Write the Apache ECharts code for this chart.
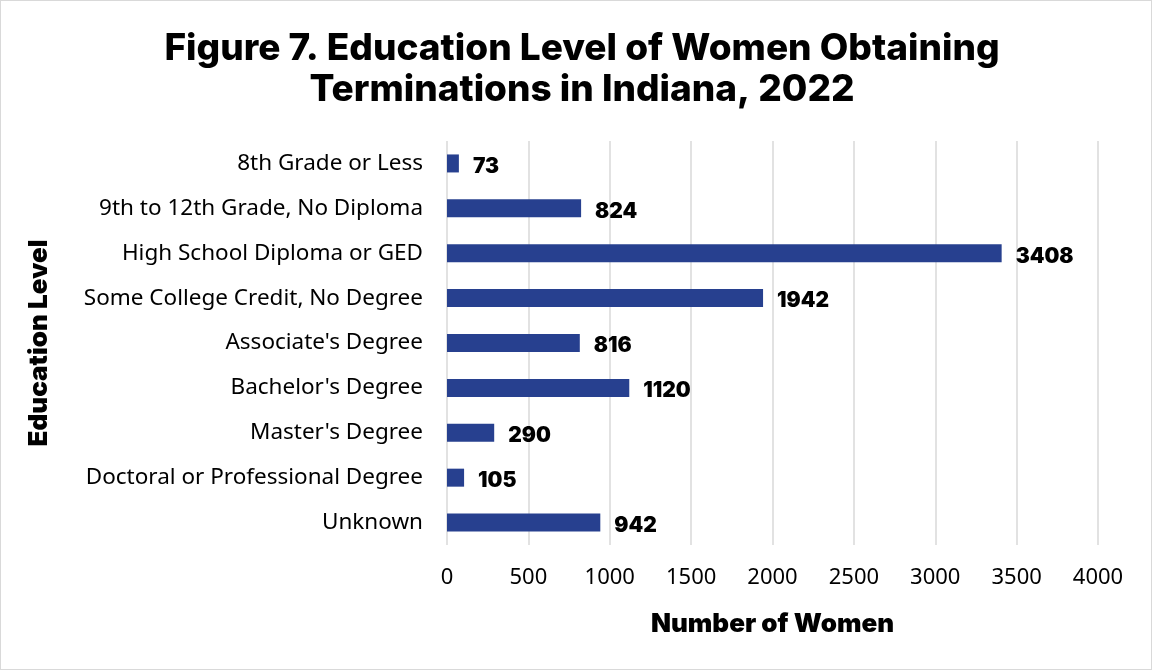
<!DOCTYPE html>
<html>
<head>
<meta charset="utf-8">
<script src="https://cdn.jsdelivr.net/npm/echarts@6/dist/echarts.min.js"></script>
<style>
	html, body { margin: 0; padding: 0; background: #fff; }
	#chart { width: 1150px; height: 668px; border: 1px solid #d9d9d9; }
</style>
</head>
<body>
<div id="chart"></div>
<script>
	// categories top to bottom
	var levels = [
		'8th Grade or Less',
		'9th to 12th Grade, No Diploma',
		'High School Diploma or GED',
		'Some College Credit, No Degree',
		"Associate's Degree",
		"Bachelor's Degree",
		"Master's Degree",
		'Doctoral or Professional Degree',
		'Unknown'
	];
	var women = [73, 824, 3408, 1942, 816, 1120, 290, 105, 942];

	var chart = echarts.init(document.getElementById('chart'));
	var option = {
		animation: false,
		title: {
			text: 'Figure 7. Education Level of Women Obtaining\nTerminations in Indiana, 2022',
			left: 576,
			top: 22,
			textAlign: 'center',
			textStyle: {
				fontFamily: 'Inter',
				fontWeight: 800,
				fontSize: 37,
				lineHeight: 41,
				color: '#000'
			}
		},
		grid: {
			left: 446,
			right: 53,
			top: 140,
			bottom: 124
		},
		xAxis: {
			type: 'value',
			min: 0,
			max: 4000,
			interval: 500,
			name: 'Number of Women',
			nameLocation: 'middle',
			nameGap: 66,
			nameTextStyle: {
				fontFamily: 'Inter',
				fontWeight: 900,
				fontSize: 26,
				color: '#000'
			},
			axisLine: { show: false },
			axisTick: { show: false },
			axisLabel: {
				margin: 22,
				fontFamily: 'Noto Sans',
				fontSize: 22,
				color: '#000',
				formatter: function (v) { return String(v); }
			},
			splitLine: {
				show: true,
				lineStyle: { color: '#d9d9d9', width: 1.5 }
			}
		},
		yAxis: {
			type: 'category',
			data: levels,
			inverse: true,
			name: 'Education Level',
			nameLocation: 'middle',
			nameGap: 395,
			nameRotate: 90,
			nameTextStyle: {
				fontFamily: 'Inter',
				fontWeight: 900,
				fontSize: 26,
				color: '#000'
			},
			axisLine: { show: false },
			axisTick: { show: false },
			axisLabel: {
				margin: 24,
				fontFamily: 'Noto Sans',
				fontSize: 22.5,
				color: '#000'
			}
		},
		series: [{
			type: 'bar',
			data: women,
			barWidth: 18,
			itemStyle: { color: '#27408f' },
			label: {
				show: true,
				position: 'right',
				distance: 14,
				fontFamily: 'Inter',
				fontWeight: 900,
				fontSize: 21,
				color: '#000',
				offset: [0, 3]
			}
		}]
	};
	chart.setOption(option);
</script>
</body>
</html>
